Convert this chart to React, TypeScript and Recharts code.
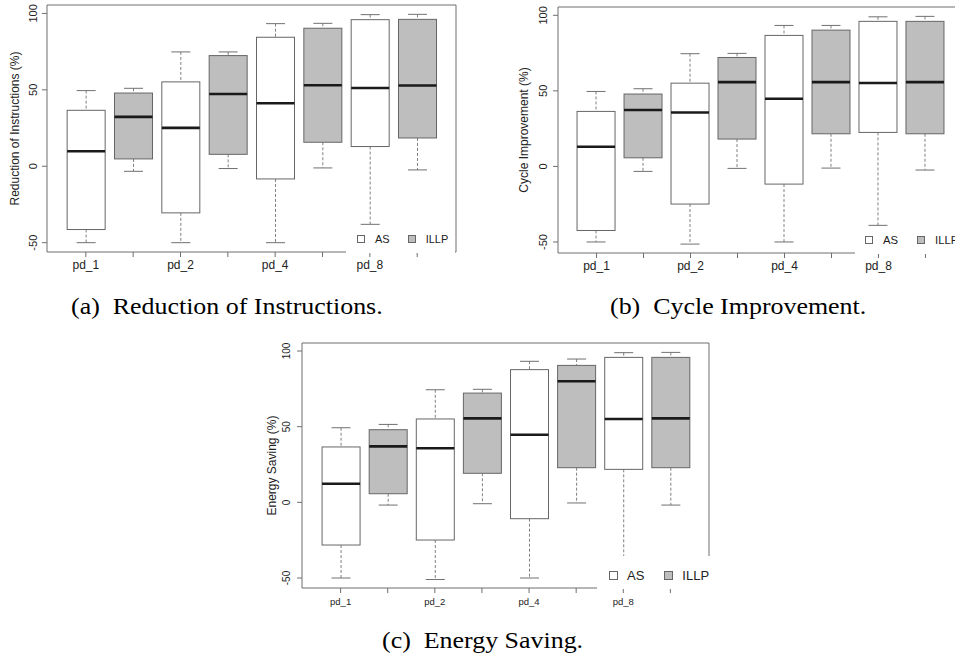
import React from 'react';
import { BarChart, Bar, XAxis, YAxis, ReferenceArea, Legend } from 'recharts';

// categories and series
const groups = ['pd_1', 'pd_2', 'pd_4', 'pd_8'];
const seriesNames = ['AS', 'ILLP'];
const seriesFills = ['#ffffff', '#bebebe'];
const xTickLabels = ['pd_1', '', 'pd_2', '', 'pd_4', '', 'pd_8', ''];
const yTicks = [-50, 0, 50, 100];

// [lower whisker, Q1, median, Q3, upper whisker] per group
const instrAS = [[-50, -41.4, 9.8, 36.6, 49.5], [-50, -30.5, 25.1, 55.2, 74.8], [-50, -8.3, 41.2, 84.4, 93.3], [-38, 12.9, 51.2, 95.9, 99.2]];
const instrILLP = [[-3.3, 4.8, 32.3, 47.9, 51], [-1.5, 7.8, 47.3, 72.4, 74.8], [-1.1, 15.7, 53, 90.3, 93.5], [-2.4, 18.5, 52.8, 96.1, 99.4]];

const cycleAS = [[-50, -42.4, 13.0, 36.4, 49.6], [-51.4, -24.9, 35.7, 55.1, 74.6], [-50, -11.7, 44.8, 86.7, 93.3], [-39, 22.5, 55.2, 96, 99]];
const cycleILLP = [[-3.3, 5.7, 37.3, 47.9, 51.4], [-1.3, 18.1, 55.8, 72.1, 74.8], [-1.1, 21.6, 55.8, 90.2, 93.3], [-2.4, 21.6, 55.8, 96, 99.3]];

const energyAS = [[-50, -28.2, 12.3, 36.6, 49.3], [-51, -24.9, 35.7, 55.1, 74.4], [-50, -10.8, 44.7, 87.7, 93.2], [-37.9, 21.8, 55.1, 95.8, 98.9]];
const energyILLP = [[-1.8, 5.7, 37, 48, 51.5], [-0.9, 19.2, 55.5, 72.2, 74.7], [-0.4, 22.9, 80, 90.5, 94.7], [-1.8, 22.9, 55.5, 95.8, 99.1]];

const buildRows = (as: number[][], illp: number[][]) => {
    const rows: any[] = [];
    groups.forEach((g, i) => {
        [as, illp].forEach((s, j) => {
            const st = s[i];
            rows.push({ pos: i * 2 + j + 1, group: g, series: seriesNames[j], fill: seriesFills[j], stats: st, box: [st[1], st[3]] });
        });
    });
    return rows;
};

const BoxShape = (props: any) => {
    const { x, y, width, height, payload } = props;
    const [lo, q1, med, q3, hi] = payload.stats;
    const k = height / (q3 - q1);
    const py = (v: number) => y + (q3 - v) * k;
    const cx = x + width / 2;
    const cap = width / 4;
    return (
        <g>
            <line x1={cx} x2={cx} y1={py(hi)} y2={y} stroke="#808080" strokeDasharray="3 2" />
            <line x1={cx} x2={cx} y1={y + height} y2={py(lo)} stroke="#808080" strokeDasharray="3 2" />
            <line x1={cx - cap} x2={cx + cap} y1={py(hi)} y2={py(hi)} stroke="#707070" />
            <line x1={cx - cap} x2={cx + cap} y1={py(lo)} y2={py(lo)} stroke="#707070" />
            <rect x={x} y={y} width={width} height={height} fill={payload.fill} stroke="#666" />
            <line x1={x} x2={x + width} y1={py(med)} y2={py(med)} stroke="#1a1a1a" strokeWidth={2.6} />
        </g>
    );
};

const LegendBox = ({ cfg }: any) => (
    <div style={{ position: 'relative', width: cfg.w, height: cfg.h, background: '#fff' }}>
        <div style={{ position: 'absolute', left: cfg.pad, top: cfg.cy - 8, height: 16, display: 'flex', alignItems: 'center', fontSize: cfg.font, color: '#222', whiteSpace: 'nowrap' }}>
            {seriesNames.map((n, i) => (
                <span key={n} style={{ display: 'flex', alignItems: 'center', marginLeft: i ? cfg.gap : 0 }}>
                    <span style={{ width: cfg.sq, height: cfg.sq, boxSizing: 'border-box', border: '1px solid #666', background: seriesFills[i], marginRight: cfg.sqGap }} />
                    {n}
                </span>
            ))}
        </div>
    </div>
);

const BoxPanel = ({ p, rows }: any) => {
    const positions = rows.map((r: any) => r.pos);
    return (
        <div style={{ position: 'absolute', left: p.left, top: p.top }}>
            <BarChart width={p.width} height={p.height} data={rows} margin={p.margin}>
                <XAxis type="number" dataKey="pos" domain={[0.18, 8.82]} ticks={positions} interval={0} allowDataOverflow
                    tickFormatter={(v: number) => xTickLabels[v - 1]} axisLine={false} tickLine={{ stroke: '#6e6e6e' }}
                    tickSize={5} tickMargin={p.xTickMargin} height={28} tick={{ fontSize: p.xFont, fill: '#222' }} />
                <YAxis type="number" domain={p.yDomain} ticks={yTicks} interval={0} allowDataOverflow width={p.yWidth}
                    axisLine={false} tickLine={{ stroke: '#6e6e6e' }} tickSize={5} tickMargin={p.yTickMargin}
                    tick={(t: any) => (
                        <text x={t.x} y={t.y} transform={`rotate(-90 ${t.x} ${t.y})`} textAnchor="middle" fontSize={p.yFont} fill="#222">
                            {t.payload.value}
                        </text>
                    )}
                    label={{ value: p.title, angle: -90, position: 'center', dx: p.labelDx, style: { fontSize: 12, fill: '#222' } }} />
                <Bar dataKey="box" barSize={38} shape={BoxShape} isAnimationActive={false} />
                <ReferenceArea x1={0.18} x2={8.82} y1={p.yDomain[0]} y2={p.yDomain[1]} fill="none" stroke="#6e6e6e" strokeWidth={1} ifOverflow="visible" />
                <Legend layout="horizontal" verticalAlign="middle" align="center"
                    wrapperStyle={{ left: p.legend.left, top: p.legend.top, width: p.legend.w, height: p.legend.h }}
                    content={() => <LegendBox cfg={p.legend} />} />
            </BarChart>
        </div>
    );
};

const panelA = {
    left: 0, top: 0, width: 470, height: 280, margin: { top: 5, right: 14, bottom: 0, left: 0 },
    yWidth: 47, yDomain: [-56.1, 105.5], labelDx: -8.5, yTickMargin: 5, yFont: 11, xFont: 12, xTickMargin: 3,
    title: 'Reduction of Instructions (%)',
    legend: { left: 346, top: 227, w: 109, h: 26, cy: 12, pad: 11, gap: 18, font: 11, sq: 8, sqGap: 10 },
};
const panelB = {
    left: 510, top: 0, width: 470, height: 281, margin: { top: 7, right: 16, bottom: 0, left: 0 },
    yWidth: 48, yDomain: [-57.3, 105.5], labelDx: -10, yTickMargin: 6, yFont: 11, xFont: 12, xTickMargin: 3,
    title: 'Cycle Improvement (%)',
    legend: { left: 345, top: 228, w: 120, h: 26, cy: 12, pad: 10, gap: 19, font: 11.3, sq: 8, sqGap: 10 },
};
const panelC = {
    left: 250, top: 338, width: 470, height: 278, margin: { top: 5, right: 11, bottom: 0, left: 0 },
    yWidth: 52, yDomain: [-56.6, 105.3], labelDx: -4.3, yTickMargin: 6.5, yFont: 10, xFont: 9.5, xTickMargin: 5.7,
    title: 'Energy Saving (%)',
    legend: { left: 347, top: 218, w: 116, h: 33, cy: 19, pad: 12, gap: 20, font: 13, sq: 9, sqGap: 9 },
};

const captionStyle: React.CSSProperties = {
    position: 'absolute', fontFamily: '"Liberation Serif", "Times New Roman", serif', fontSize: 24, lineHeight: '24px',
    whiteSpace: 'nowrap', color: '#000', transform: 'scaleX(1.08)', transformOrigin: 'left',
};

export default function App() {
    return (
        <div style={{ position: 'absolute', left: 0, top: 0, width: 955, height: 659, overflow: 'hidden', background: '#fff', fontFamily: '"Liberation Sans", Arial, sans-serif' }}>
            <BoxPanel p={panelA} rows={buildRows(instrAS, instrILLP)} />
            <BoxPanel p={panelB} rows={buildRows(cycleAS, cycleILLP)} />
            <BoxPanel p={panelC} rows={buildRows(energyAS, energyILLP)} />
            <div style={{ ...captionStyle, left: 71, top: 294 }}>(a)&ensp;Reduction of Instructions.</div>
            <div style={{ ...captionStyle, left: 610, top: 294 }}>(b)&ensp;Cycle Improvement.</div>
            <div style={{ ...captionStyle, left: 382, top: 628 }}>(c)&ensp;Energy Saving.</div>
        </div>
    );
}
